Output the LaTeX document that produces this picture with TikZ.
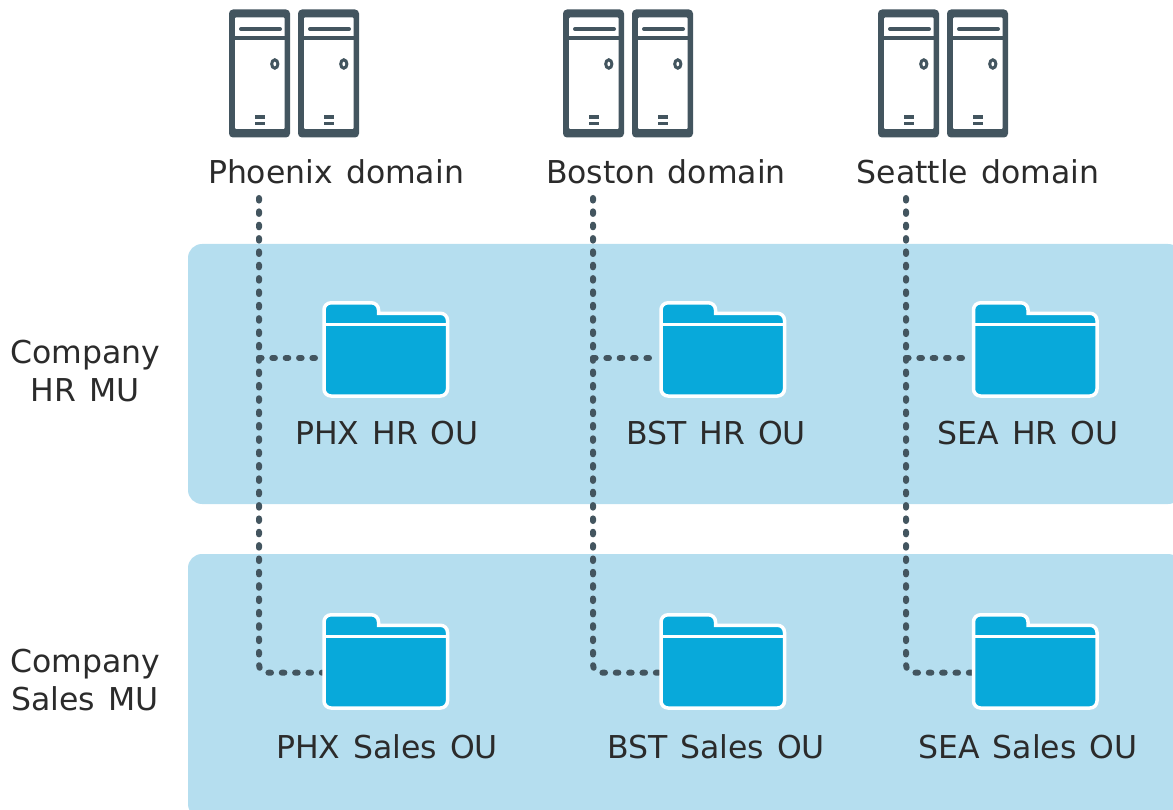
\documentclass[tikz,border=0pt]{standalone}
\usepackage{fontspec}
\setmainfont{DejaVu Sans}
\usetikzlibrary{positioning,backgrounds}
\definecolor{panelblue}{HTML}{B5DEEF}
\definecolor{folderblue}{HTML}{08A9DA}
\definecolor{slate}{HTML}{43555F}
\definecolor{inktext}{HTML}{2B2B2B}
\tikzset{
    panel/.style={fill=panelblue,rounded corners=14pt},
    link/.style={slate,line width=6pt,line cap=round,dash pattern=on 2.6pt off 10.75pt,rounded corners=8pt},
    label/.style={font={\fontsize{31.5}{38}\selectfont\spaceskip 13pt\relax},text=inktext,inner sep=0pt,align=center},
    pics/server/.style={code={
        \fill [slate,rounded corners=4pt] (0,0) rectangle (61,128);
        \fill [white,rounded corners=1pt] (6,8) rectangle (55.5,119.5);
        \draw [slate,line width=3.5pt] (6,28.5) -- (55.5,28.5);
        \draw [slate,line width=4pt,line cap=round] (12,19.5) -- (51,19.5);
        \draw [slate,line width=3pt] (45.8,54.5) ellipse (3.1 and 4.2);
        \draw [slate,line width=3.2pt] (26,107.5) -- (36,107.5) (26,113.8) -- (36,113.8);
    }},
    pics/folder/.style={code={
        \filldraw [draw=white,fill=folderblue,line width=3.5pt,rounded corners=7pt]
            (2,95) -- (2,1.8) -- (56.5,1.8) [sharp corners] -- (56.5,12.3) [rounded corners=7pt] -- (125.5,12.3) -- (125.5,95) -- cycle;
        \draw [white,line width=3pt] (2,23.3) -- (125.5,23.3);
        \coordinate (-w) at (0,57);
        \coordinate (-v) at (0,59.7);
    }},
}
\begin{document}
\begin{tikzpicture}[x=1pt,y=-1pt]
    \useasboundingbox (0,0) rectangle (1173,810);
    % domains
    \foreach \name/\xsrv/\xtxt/\xlink/\txt in {phx/229/336/259/Phoenix domain,bst/563/666/593/Boston domain,sea/878/978/906/Seattle domain} {
        \pic at (\xsrv,9.5) {server};
        \pic at (\xsrv+69,9.5) {server};
        \node [label] (\name dom) at (\xtxt,172) {\txt};
        \coordinate (\name top) at (\xlink,198);
    }
    % folders
    \foreach \name/\xfld/\xtxt/\unit in {phx/322/387/PHX,bst/659/716/BST,sea/971.5/1028/SEA} {
        \pic (\name hr) at (\xfld,301) {folder};
        \pic (\name sales) at (\xfld,613) {folder};
        \node [label] (\name hrtxt) at (\xtxt,433) {\unit\ HR OU};
        \node [label] (\name salestxt) at (\xtxt,747) {\unit\ Sales OU};
    }
    \begin{scope}[on background layer]
    \clip (0,0) rectangle (1173,810);
    \fill [panel] (188,244) rectangle (1182,504);
    \fill [panel] (188,554) rectangle (1182,818);
    \foreach \name in {phx,bst,sea} {
        \draw [link] (\name top) |- (\name sales-v);
        \draw [link] (\name top |- \name hr-w) -- (\name hr-w);
    }
    \end{scope}
    \node [label] (hrmu) at (85,371) {Company\\HR MU};
    \node [label] (salesmu) at (85,680) {Company\\Sales MU};
\end{tikzpicture}
\end{document}
